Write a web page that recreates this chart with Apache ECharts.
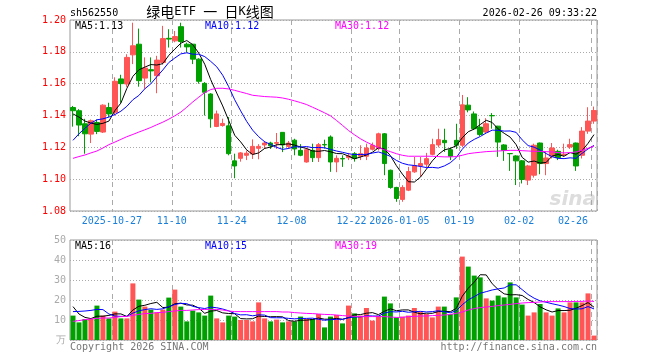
<!DOCTYPE html>
<html><head><meta charset="utf-8">
<script src="https://cdn.jsdelivr.net/npm/echarts@6/dist/echarts.min.js"></script>
<style>html,body{margin:0;padding:0;background:#fff}#c{width:660px;height:360px}</style>
</head><body><div id="c"></div>
<script>
const dates = ['2025-10-16','2025-10-17','2025-10-20','2025-10-21','2025-10-22','2025-10-23','2025-10-24','2025-10-27','2025-10-28','2025-10-29','2025-10-30','2025-10-31',
'2025-11-03','2025-11-04','2025-11-05','2025-11-06','2025-11-07','2025-11-10','2025-11-11','2025-11-12','2025-11-13','2025-11-14','2025-11-17','2025-11-18','2025-11-19','2025-11-20','2025-11-21','2025-11-24','2025-11-25','2025-11-26','2025-11-27','2025-11-28',
'2025-12-01','2025-12-02','2025-12-03','2025-12-04','2025-12-05','2025-12-08','2025-12-09','2025-12-10','2025-12-11','2025-12-12','2025-12-15','2025-12-16','2025-12-17','2025-12-18','2025-12-19','2025-12-22','2025-12-23','2025-12-24','2025-12-25','2025-12-26','2025-12-29','2025-12-30','2025-12-31',
'2026-01-05','2026-01-06','2026-01-07','2026-01-08','2026-01-09','2026-01-12','2026-01-13','2026-01-14','2026-01-15','2026-01-16','2026-01-19','2026-01-20','2026-01-21','2026-01-22','2026-01-23','2026-01-26','2026-01-27','2026-01-28','2026-01-29','2026-01-30',
'2026-02-02','2026-02-03','2026-02-04','2026-02-05','2026-02-06','2026-02-09','2026-02-10','2026-02-11','2026-02-12','2026-02-13','2026-02-24','2026-02-25','2026-02-26'];

const opens = [1.145,1.143,1.1348,1.1283,1.1356,1.1296,1.145,1.142,1.163,1.1598,1.1781,1.1848,1.1635,1.1688,1.165,1.1733,1.1885,1.1869,1.1958,1.1848,1.1848,1.1754,1.1602,1.1535,1.1331,1.1337,1.1335,1.1115,1.1131,1.115,1.1158,1.1194,1.1215,1.1227,1.1225,1.1294,1.1206,1.1245,1.1181,1.1108,1.1181,1.1135,1.1218,1.1265,1.1108,1.113,1.1135,1.116,1.1144,1.1144,1.1188,1.1192,1.1285,1.1056,1.0948,1.0873,1.0931,1.1046,1.1083,1.1094,1.1156,1.1215,1.1244,1.1185,1.1244,1.1213,1.1465,1.141,1.1327,1.1296,1.14,1.1333,1.1215,1.1161,1.1146,1.1115,1.0994,1.1025,1.1227,1.1098,1.1144,1.1175,1.1152,1.1202,1.1227,1.115,1.1302,1.1365];
const closes = [1.143,1.134,1.1285,1.1367,1.130,1.1465,1.141,1.1615,1.160,1.1765,1.1838,1.1619,1.1698,1.168,1.1748,1.1883,1.188,1.1896,1.1865,1.1831,1.1754,1.1615,1.1546,1.1379,1.141,1.135,1.116,1.1083,1.1165,1.1163,1.1206,1.1206,1.1227,1.121,1.123,1.1215,1.1227,1.119,1.115,1.1185,1.1135,1.1217,1.1215,1.1108,1.1131,1.1127,1.1146,1.1129,1.116,1.1196,1.1213,1.1285,1.1098,1.0948,1.0879,1.0948,1.1048,1.1085,1.1098,1.1129,1.1217,1.1248,1.1229,1.1144,1.1213,1.1467,1.1435,1.1317,1.1281,1.1348,1.1398,1.1233,1.1181,1.116,1.1115,1.0998,1.1083,1.1213,1.1098,1.1133,1.1196,1.1135,1.1156,1.1217,1.1083,1.1302,1.1365,1.1431];
const lows = [1.133,1.127,1.116,1.1227,1.1283,1.129,1.139,1.140,1.148,1.158,1.1723,1.1581,1.1567,1.1608,1.154,1.172,1.1827,1.186,1.1827,1.1796,1.1723,1.160,1.140,1.1323,1.1327,1.133,1.115,1.1006,1.111,1.112,1.1127,1.1125,1.119,1.119,1.119,1.117,1.119,1.115,1.1144,1.1104,1.1108,1.1108,1.1192,1.1046,1.1044,1.1077,1.112,1.111,1.112,1.112,1.118,1.118,1.1025,1.094,1.0858,1.0858,1.0925,1.104,1.1015,1.1073,1.115,1.12,1.1171,1.112,1.119,1.12,1.142,1.131,1.127,1.129,1.1317,1.114,1.1115,1.1052,1.0963,1.0973,1.0963,1.101,1.1031,1.1025,1.113,1.112,1.114,1.119,1.1052,1.113,1.1285,1.1348];
const highs = [1.146,1.144,1.1379,1.1375,1.1375,1.147,1.148,1.164,1.1656,1.1785,1.1983,1.1946,1.1765,1.1765,1.1775,1.1963,1.1942,1.1931,1.1983,1.1858,1.185,1.176,1.161,1.154,1.1431,1.138,1.139,1.116,1.117,1.118,1.125,1.122,1.124,1.1235,1.129,1.1296,1.124,1.1254,1.122,1.1198,1.1223,1.1227,1.1248,1.1275,1.115,1.115,1.1165,1.117,1.1213,1.1223,1.123,1.1292,1.129,1.106,1.0952,1.0962,1.1077,1.114,1.114,1.1165,1.1254,1.1317,1.1317,1.12,1.1348,1.1529,1.1515,1.1425,1.1379,1.1383,1.1415,1.1335,1.122,1.1162,1.115,1.112,1.109,1.1223,1.123,1.1171,1.1227,1.1185,1.1223,1.1254,1.123,1.1327,1.1452,1.1456];
const ma5 = [1.141,1.139,1.1365,1.1352,1.1344,1.1351,1.1365,1.1431,1.1478,1.1571,1.1646,1.1687,1.1704,1.172,1.1717,1.1726,1.1778,1.1817,1.1854,1.1871,1.1845,1.1792,1.1722,1.1625,1.1541,1.146,1.1369,1.1276,1.1234,1.1184,1.1155,1.1165,1.1193,1.1202,1.1216,1.1218,1.1222,1.1214,1.1202,1.1193,1.1177,1.1175,1.118,1.1172,1.1161,1.116,1.1145,1.1128,1.1139,1.1152,1.1169,1.1197,1.119,1.1148,1.1085,1.1032,1.0984,1.0982,1.1012,1.1062,1.1115,1.1155,1.1184,1.1193,1.121,1.126,1.1298,1.1315,1.1343,1.137,1.1356,1.1315,1.1288,1.1264,1.1217,1.1137,1.1107,1.1114,1.1101,1.1105,1.1145,1.1155,1.1144,1.1167,1.1157,1.1179,1.1225,1.128];
const ma10 = [1.1244,1.1285,1.132,1.1352,1.1373,1.1379,1.139,1.1406,1.1427,1.1458,1.1499,1.1526,1.1568,1.1599,1.1644,1.1686,1.1733,1.1761,1.1787,1.1794,1.1785,1.1785,1.177,1.174,1.1706,1.1653,1.1581,1.1499,1.1429,1.1363,1.1308,1.1267,1.1235,1.1218,1.12,1.1187,1.1193,1.1204,1.1202,1.1205,1.1198,1.1199,1.1197,1.1187,1.1177,1.1169,1.116,1.1154,1.1155,1.1156,1.1164,1.1171,1.1159,1.1143,1.1118,1.11,1.109,1.1086,1.108,1.1073,1.1074,1.107,1.1083,1.1103,1.1136,1.1188,1.1227,1.125,1.1268,1.129,1.1308,1.1307,1.1302,1.1303,1.1294,1.1247,1.1211,1.1201,1.1183,1.1161,1.1141,1.1131,1.1129,1.1134,1.1131,1.1162,1.119,1.1212];
const ma30 = [1.1131,1.1142,1.1152,1.1165,1.1177,1.1196,1.1217,1.1233,1.125,1.1267,1.1281,1.1296,1.131,1.1325,1.1342,1.1358,1.1377,1.1398,1.1421,1.1452,1.1485,1.1515,1.1544,1.1563,1.1571,1.1571,1.1567,1.1558,1.1548,1.1538,1.1527,1.1523,1.1519,1.1517,1.1515,1.151,1.1502,1.1492,1.1481,1.1469,1.1452,1.1435,1.1417,1.1398,1.1369,1.1338,1.1306,1.1279,1.1254,1.1233,1.1215,1.1198,1.1185,1.1173,1.116,1.115,1.1144,1.1144,1.1144,1.1144,1.1144,1.1142,1.114,1.114,1.1142,1.115,1.116,1.1165,1.1169,1.1173,1.1175,1.1177,1.1179,1.1181,1.1181,1.1179,1.1177,1.1175,1.1175,1.1173,1.1171,1.1167,1.1165,1.1167,1.1171,1.1181,1.1194,1.1208];
const volumes = [12.2,8.8,10.5,10.8,17.2,12.2,10.8,14.2,10.8,10.8,28.3,20.2,16.7,15.2,13.8,15.2,21.2,25.2,16.7,9.3,14.7,13.8,12.2,22.2,10.8,8.8,12.2,11.7,10,10,9.3,18.8,10.8,9.3,10.2,8.8,9.3,9.3,11.7,10.5,10.5,13,6.3,11.7,12.5,8.3,17.2,13.3,12.2,16,9.7,12.2,21.7,18.3,11.3,11.7,12.2,16,14.2,13,11.3,16.7,16.7,13,21.3,41.7,36.7,32.2,31.3,20.8,19.7,22.2,21.3,28.8,21.3,17.7,12.2,13.8,18,13.8,12.2,15.8,13.8,18.8,18.8,18.8,23.3,2.2];
const volMa5 = [16.7,13,11.3,10.7,11.9,11.9,12.3,13.04,13.04,11.76,14.98,16.86,17.36,18.24,18.84,16.22,16.42,18.12,18.42,17.52,17.42,15.94,13.34,14.44,14.74,13.56,13.24,13.14,10.7,10.54,10.64,11.96,11.78,11.64,11.68,11.58,9.68,9.38,9.86,9.92,10.26,11,10.4,10.4,10.8,10.36,11.2,12.6,12.7,13.4,13.68,12.68,14.36,15.58,14.64,15.04,15.04,13.9,13.08,13.42,13.34,14.24,14.38,14.14,15.8,21.88,25.88,28.98,32.64,32.54,28.14,25.24,23.06,22.56,22.66,22.26,20.26,18.76,16.6,15.1,14,14.72,14.72,14.88,15.88,17.2,18.7,16.38];
const volMa10 = [14.2,14.3,14.5,14.8,15.3,15.2,13,12,11.8,11.83,13.44,14.58,15.2,15.64,15.3,15.6,16.64,17.74,18.33,18.18,16.82,16.18,15.73,16.43,16.13,15.49,14.59,13.24,12.57,12.64,12.1,12.6,12.46,11.17,11.11,11.11,10.82,10.58,10.75,10.8,10.92,10.34,9.89,10.13,10.36,10.31,11.1,11.5,11.55,12.1,12.02,11.94,13.48,14.14,14.02,14.36,13.86,14.13,14.33,14.03,14.19,14.64,14.14,13.61,14.61,17.61,20.06,21.68,23.39,24.17,25.01,25.56,26.02,27.6,27.6,25.2,22.75,20.91,19.58,18.88,18.13,17.49,16.74,15.74,15.49,15.6,16.71,15.55];
const volMa30 = [9.3,9.7,10.2,10.5,10.8,11,11,11.3,11.7,11.8,12.3,12.8,13.2,13.3,13.7,13.8,14.2,14.5,14.8,14.8,15,15.2,15.3,15.3,15.3,15,14.5,14.2,14.2,14.2,14.2,14.2,14.2,14.2,14.2,14,14,13.7,13.5,13.3,13.2,13,12.8,12.7,12.5,12.2,12,11.8,11.7,11.7,11.7,11.7,11.7,11.5,11.3,11.3,11.7,11.8,12,12,12.2,12.3,12.5,12.8,13.3,14,15,15.7,16.2,16.5,16.8,17.2,17.5,17.8,18.2,18.5,18.7,18.8,19,19.2,19.2,19.2,19.2,19.2,19.3,19.3,19.5,19.3];

const tickDates = ['2025-10-27','2025-11-10','2025-11-24','2025-12-08','2025-12-22','2026-01-05','2026-01-19','2026-02-02','2026-02-26'];
const tickLabels = ['2025-10-27','11-10','11-24','12-08','12-22','2026-01-05','01-19','02-02','02-26'];
const priceLegend = ['MA5:1.13','MA10:1.12','MA30:1.12'];
const volLegend = ['MA5:16','MA10:15','MA30:19'];

const UP = '#ff5555', DOWN = '#00a000';
const MONO = '"DejaVu Sans Mono", monospace';
const tickSet = new Set(tickDates.map(d => dates.indexOf(d)));
const labelOf = {}; tickDates.forEach((d, k) => labelOf[d] = tickLabels[k]);
const showTick = (i) => tickSet.has(i);

const kData = dates.map((d, i) => [opens[i], closes[i], lows[i], highs[i]]);
const vData = volumes.map((v, i) => ({ value: v, itemStyle: { color: closes[i] >= opens[i] ? UP : DOWN } }));

const chart = echarts.init(document.getElementById('c'), null, { renderer: 'canvas' });
const xBase = {
  type: 'category', data: dates, boundaryGap: true,
  axisLine: { show: false }, axisTick: { show: false },
  splitLine: { show: true, interval: showTick, lineStyle: { color: '#aaa', type: [5, 4], width: 1 } }
};
const lineS = (name, data, color, xi, yi) => ({
  name, type: 'line', data, xAxisIndex: xi, yAxisIndex: yi, symbol: 'none', silent: true,
  lineStyle: { color, width: 1 }, itemStyle: { color }, animation: false, z: 5
});
const txt = (x, y, text, fill, extra) => ({
  type: 'text', x, y, silent: true,
  style: Object.assign({ text, fill, font: '10px ' + MONO, textVerticalAlign: 'middle' }, extra || {})
});
const CJK = '14px "Noto Sans CJK SC"';
const HALF = '12px ' + MONO;

chart.setOption({
  animation: false,
  grid: [
    { left: 70, top: 20, width: 527, height: 191, show: true, borderColor: '#999', borderWidth: 1 },
    { left: 70, top: 240, width: 527, height: 100, show: true, borderColor: '#999', borderWidth: 1 }
  ],
  xAxis: [
    Object.assign({}, xBase, { gridIndex: 0, axisLabel: { show: true, interval: showTick, formatter: (v) => labelOf[v] || '', color: '#1a7fd9', fontFamily: MONO, fontSize: 10, margin: 5, padding: [0, 6, 0, 0], alignMaxLabel: 'right' } }),
    Object.assign({}, xBase, { gridIndex: 1, axisLabel: { show: false } })
  ],
  yAxis: [
    { type: 'value', gridIndex: 0, min: 1.08, max: 1.20, interval: 0.02, axisLine: { show: false }, axisTick: { show: false },
      axisLabel: { color: '#ff0000', fontFamily: MONO, fontSize: 10, margin: 4, formatter: (v) => v.toFixed(2) },
      splitLine: { show: true, lineStyle: { color: '#aaa', type: [1, 2], width: 1 } } },
    { type: 'value', gridIndex: 1, min: 0, max: 50, interval: 10, axisLine: { show: false }, axisTick: { show: false },
      axisLabel: { color: '#aaa', fontFamily: MONO, fontSize: 10, margin: 4, formatter: (v) => v === 0 ? '万' : String(v) },
      splitLine: { show: true, lineStyle: { color: '#aaa', type: [1, 2], width: 1 } } }
  ],
  series: [
    { type: 'candlestick', xAxisIndex: 0, yAxisIndex: 0, data: kData, barWidth: 5, silent: true,
      itemStyle: { color: UP, color0: DOWN, borderColor: UP, borderColor0: DOWN, borderWidth: 1 } },
    lineS('MA5', ma5, '#000000', 0, 0),
    lineS('MA10', ma10, '#0000ff', 0, 0),
    lineS('MA30', ma30, '#ff00ff', 0, 0),
    { type: 'bar', xAxisIndex: 1, yAxisIndex: 1, data: vData, barWidth: 5, silent: true },
    lineS('VMA5', volMa5, '#000000', 1, 1),
    lineS('VMA10', volMa10, '#0000ff', 1, 1),
    lineS('VMA30', volMa30, '#ff00ff', 1, 1)
  ],
  graphic: [
    txt(70, 13, 'sh562550', '#000'),
    { type: 'text', x: 210, y: 12, silent: true, style: {
        text: '{a|绿电}{b|ETF }{a|一}{b| }{a|日}{b|K}{a|线图}',
        textAlign: 'center', textVerticalAlign: 'middle',
        rich: { a: { font: CJK, fill: '#000' }, b: { font: HALF, fill: '#000' } } } },
    txt(597, 13, '2026-02-26 09:33:22', '#000', { textAlign: 'right' }),
    txt(75, 26, priceLegend[0], '#000'),
    txt(205, 26, priceLegend[1], '#0000ff'),
    txt(335, 26, priceLegend[2], '#ff00ff'),
    txt(75, 246, volLegend[0], '#000'),
    txt(205, 246, volLegend[1], '#0000ff'),
    txt(335, 246, volLegend[2], '#ff00ff'),
    txt(70, 347, 'Copyright 2026 SINA.COM', '#777'),
    txt(597, 347, 'http://finance.sina.com.cn', '#777', { textAlign: 'right' }),
    { type: 'text', x: 596, y: 200, silent: true, z: -1, style: { text: 'sina', fill: '#dddddd', font: 'italic bold 20px "DejaVu Sans"', textAlign: 'right', textVerticalAlign: 'middle' } }
  ]
});
</script></body></html>
